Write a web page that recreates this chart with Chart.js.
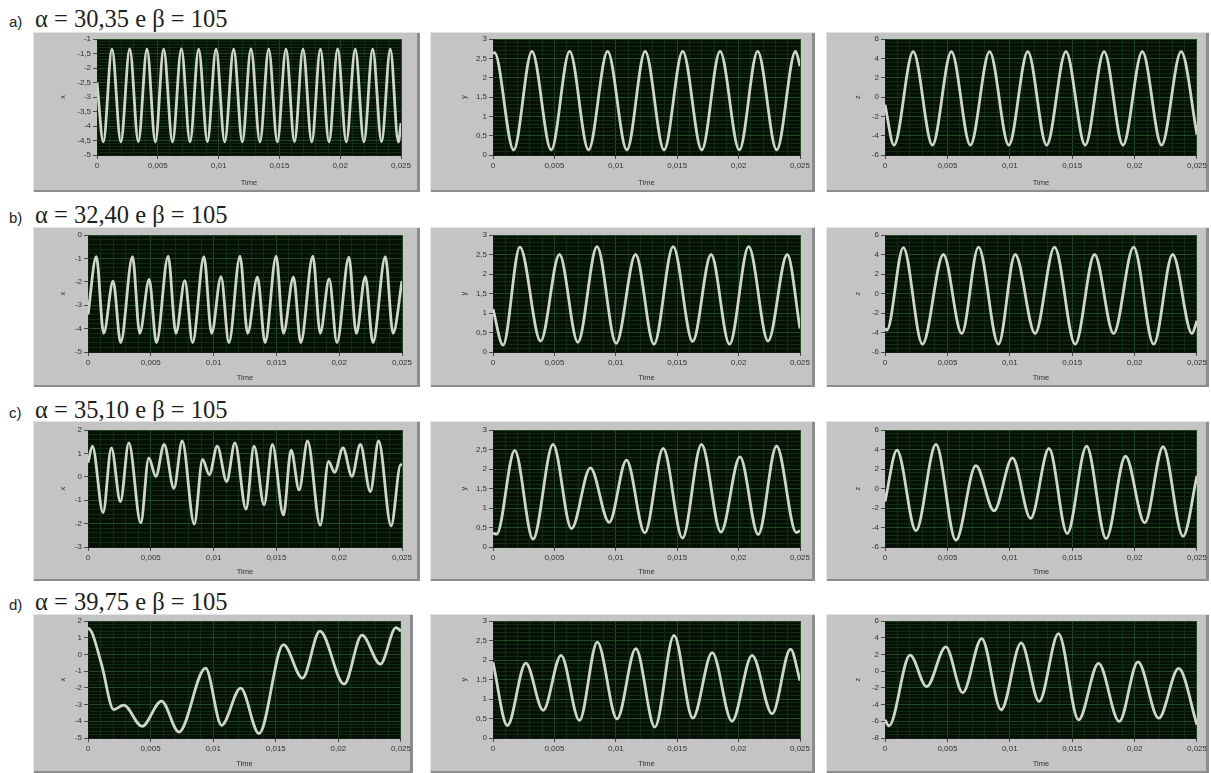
<!DOCTYPE html>
<html>
<head>
<meta charset="utf-8">
<script src="https://cdn.jsdelivr.net/npm/chart.js@4.4.1/dist/chart.umd.min.js"></script>
<style>
    body { margin: 0; background: #fff; }
    #page { position: relative; width: 1211px; height: 773px; overflow: hidden; background: #fff; }
    .letter { position: absolute; font-family: "Liberation Sans", Arial, sans-serif; font-size: 15px; line-height: 15px; color: #222; }
    .title { position: absolute; font-family: "Liberation Serif", "Times New Roman", serif; font-size: 24.5px; line-height: 24px; color: #1e1e1e; white-space: nowrap; }
    .frame { position: absolute; background: #c4c4c4; box-shadow: inset 1px 1px 0 #e4e4e4, inset -3px -2px 0 #8d8d8d; }
    canvas { position: absolute; }
</style>
</head>
<body>
<div id="page"></div>
<script>
// row headings
var rowLetters = ['a)', 'b)', 'c)', 'd)'];
var rowTitles = ['α = 30,35 e β = 105', 'α = 32,40 e β = 105', 'α = 35,10 e β = 105', 'α = 39,75 e β = 105'];

// time axis (s): majors labelled, minors only as grid
var timeRange = [0, 0.025, 0.005];

// [min, max, major step] of each value axis
var a_x_ticks = [-5, -1, 0.5], a_y_ticks = [0, 3, 0.5], a_z_ticks = [-6, 6, 2];
var b_x_ticks = [-5, 0, 1],    b_y_ticks = [0, 3, 0.5], b_z_ticks = [-6, 6, 2];
var c_x_ticks = [-3, 2, 1],    c_y_ticks = [0, 3, 0.5], c_z_ticks = [-6, 6, 2];
var d_x_ticks = [-5, 2, 1],    d_y_ticks = [0, 3, 0.5], d_z_ticks = [-8, 6, 2];

// waveforms, read at their turning points
// a) alpha = 30,35
var a_x_time = [0, 0.00052, 0.00123, 0.00196, 0.00269, 0.0034, 0.00411, 0.0048, 0.00548, 0.00621, 0.00694, 0.00765, 0.00836, 0.00908, 0.00979, 0.0105, 0.01124, 0.01195, 0.01266, 0.0134, 0.01412, 0.01483, 0.01554, 0.01624, 0.01694, 0.01766, 0.01837, 0.01908, 0.01979, 0.0205, 0.02124, 0.02195, 0.02267, 0.0234, 0.02412, 0.02478, 0.025];
var a_x_val  = [-2.5, -4.55, -1.35, -4.55, -1.34, -4.54, -1.35, -4.55, -1.35, -4.55, -1.34, -4.55, -1.35, -4.54, -1.35, -4.55, -1.35, -4.55, -1.34, -4.55, -1.35, -4.55, -1.35, -4.54, -1.35, -4.55, -1.35, -4.55, -1.34, -4.55, -1.35, -4.55, -1.35, -4.54, -1.35, -4.55, -3.9];
var a_y_time = [0, 0.00012, 0.00168, 0.00317, 0.00474, 0.00624, 0.00778, 0.00933, 0.0109, 0.01239, 0.01393, 0.01545, 0.017, 0.01849, 0.02006, 0.02155, 0.0231, 0.02464, 0.025];
var a_y_val  = [2.62, 2.65, 0.13, 2.68, 0.13, 2.68, 0.13, 2.68, 0.13, 2.68, 0.13, 2.68, 0.13, 2.68, 0.13, 2.68, 0.13, 2.68, 2.3];
var a_z_time = [0, 0.00072, 0.00226, 0.0038, 0.00532, 0.00684, 0.00838, 0.00992, 0.01144, 0.01295, 0.0145, 0.01604, 0.01756, 0.01907, 0.02062, 0.02216, 0.02373, 0.025];
var a_z_val  = [-0.8, -4.97, 4.7, -4.97, 4.7, -4.97, 4.7, -4.97, 4.7, -4.97, 4.7, -4.97, 4.7, -4.97, 4.7, -4.97, 4.7, -3.9];

// b) alpha = 32,40
var b_x_time = [0, 0.00066, 0.00125, 0.002, 0.0026, 0.00354, 0.00412, 0.00487, 0.00545, 0.00638, 0.007, 0.00771, 0.00833, 0.00923, 0.00984, 0.01059, 0.01122, 0.0121, 0.01271, 0.01349, 0.0141, 0.01498, 0.01556, 0.01636, 0.01694, 0.0179, 0.01849, 0.0192, 0.01982, 0.02077, 0.02136, 0.02208, 0.02269, 0.02367, 0.02429, 0.025];
var b_x_val  = [-3.4, -0.93, -4.2, -1.97, -4.6, -0.93, -4.2, -1.9, -4.6, -0.9, -4.2, -1.95, -4.6, -0.93, -4.2, -1.78, -4.6, -0.9, -4.2, -1.8, -4.6, -0.9, -4.2, -1.8, -4.6, -0.9, -4.2, -1.88, -4.6, -0.95, -4.2, -1.78, -4.6, -0.93, -4.2, -1.97];
var b_y_time = [0, 0.00082, 0.00219, 0.00388, 0.00541, 0.00691, 0.00847, 0.01003, 0.01161, 0.01311, 0.01467, 0.01626, 0.01776, 0.01926, 0.02082, 0.0224, 0.02396, 0.025];
var b_y_val  = [1.1, 0.18, 2.69, 0.28, 2.5, 0.25, 2.7, 0.22, 2.5, 0.2, 2.7, 0.27, 2.5, 0.2, 2.7, 0.28, 2.5, 0.6];
var b_z_time = [0, 0.00015, 0.00147, 0.003, 0.00468, 0.00615, 0.00749, 0.00909, 0.01043, 0.01203, 0.01358, 0.01524, 0.01679, 0.01832, 0.01992, 0.02153, 0.02305, 0.0246, 0.025];
var b_z_val  = [-3.6, -3.75, 4.7, -5.2, 4.0, -4.1, 4.75, -5.2, 4.0, -4.1, 4.75, -5.2, 4.0, -4.1, 4.75, -5.2, 4.0, -4.1, -2.8];

// c) alpha = 35,10
var c_x_time = [0, 0.00035, 0.0012, 0.00186, 0.00258, 0.00325, 0.0042, 0.00484, 0.0054, 0.00606, 0.00684, 0.0075, 0.00846, 0.00912, 0.00966, 0.01029, 0.01104, 0.0117, 0.01258, 0.01322, 0.01402, 0.01468, 0.01556, 0.01617, 0.01681, 0.01748, 0.01849, 0.01915, 0.01963, 0.0203, 0.02101, 0.02168, 0.02248, 0.02314, 0.02413, 0.0249, 0.025];
var c_x_val  = [0.6, 1.31, -1.53, 1.24, -1.06, 1.45, -1.97, 0.81, 0.02, 1.38, -0.49, 1.53, -2.02, 0.74, 0.09, 1.31, -0.2, 1.45, -1.38, 1.31, -1.2, 1.38, -1.63, 1.14, -0.56, 1.53, -2.07, 0.66, 0.19, 1.24, 0.02, 1.38, -0.63, 1.53, -2.1, 0.52, 0.5];
var c_y_time = [0, 0.0003, 0.00177, 0.00326, 0.00489, 0.00639, 0.00793, 0.00946, 0.01087, 0.01236, 0.01386, 0.01543, 0.01698, 0.01856, 0.02011, 0.0216, 0.02309, 0.0247, 0.025];
var c_y_val  = [0.35, 0.33, 2.48, 0.2, 2.63, 0.47, 2.03, 0.63, 2.23, 0.36, 2.53, 0.23, 2.63, 0.38, 2.31, 0.32, 2.59, 0.37, 0.42];
var c_z_time = [0, 0.00096, 0.00248, 0.00408, 0.00568, 0.00728, 0.00874, 0.01021, 0.01167, 0.01314, 0.0146, 0.01615, 0.01772, 0.01927, 0.02081, 0.02228, 0.02388, 0.025];
var c_z_val  = [-1.34, 3.93, -4.34, 4.52, -5.31, 2.34, -2.28, 3.14, -3.07, 4.1, -4.62, 4.34, -5.14, 3.31, -3.52, 4.28, -4.9, 1.31];

// d) alpha = 39,75
var d_x_time = [0, 0.00032, 0.00112, 0.00205, 0.00285, 0.00432, 0.00587, 0.00726, 0.00939, 0.01067, 0.01219, 0.01366, 0.01561, 0.01713, 0.01852, 0.02046, 0.02188, 0.02335, 0.0246, 0.025];
var d_x_val  = [1.6, 1.3, -0.7, -3.3, -3.03, -4.3, -2.79, -4.64, -0.82, -4.24, -2.02, -4.74, 0.59, -1.42, 1.4, -1.78, 1.15, -0.58, 1.6, 1.4];
var d_y_time = [0, 0.00117, 0.00267, 0.00409, 0.00554, 0.00704, 0.00849, 0.0101, 0.01163, 0.01318, 0.01474, 0.01627, 0.01785, 0.01946, 0.0211, 0.02273, 0.02423, 0.025];
var d_y_val  = [1.94, 0.32, 1.92, 0.71, 2.12, 0.45, 2.46, 0.49, 2.29, 0.28, 2.63, 0.51, 2.19, 0.43, 2.12, 0.62, 2.28, 1.47];
var d_z_time = [0, 0.00032, 0.00201, 0.00334, 0.00487, 0.00623, 0.00775, 0.00931, 0.01091, 0.01235, 0.0139, 0.01551, 0.01711, 0.01877, 0.02027, 0.02193, 0.02353, 0.025];
var d_z_val  = [-5.83, -6.54, 1.91, -1.86, 2.9, -2.57, 3.9, -4.63, 3.38, -3.64, 4.49, -5.83, 0.92, -6.02, 1.12, -5.63, 0.33, -6.42];

// page geometry (frames and plot areas, px)
var colFrame = [[33, 387], [430, 385], [826, 383]];
var colPlot = [[88, 402], [493, 800], [885, 1197]];
var colTitleX = [62, 463, 857];
var rowFrame = [[32, 160], [227, 160], [421, 160], [614, 159]];
var rowPlot = [[39, 155], [235, 352], [430, 547], [621, 738]];
var rowBaseline = [27, 223, 418, 610];

var page = document.getElementById('page');
var tickFont = { family: '"Liberation Sans", Arial, sans-serif', size: 8 };
var titleFont = { family: '"Liberation Sans", Arial, sans-serif', size: 7.5 };

function fmt(v) {
    return String(parseFloat(v.toFixed(4))).replace('.', ',');
}

function isMajor(v, step) {
    var r = v / step;
    return Math.abs(r - Math.round(r)) < 1e-6;
}

// dark LabVIEW plot background
var plotBg = {
    id: 'plotBg',
    beforeDraw: function (chart) {
        var a = chart.chartArea, ctx = chart.ctx;
        ctx.save();
        ctx.fillStyle = '#051105';
        ctx.fillRect(a.left, a.top, a.right - a.left, a.bottom - a.top);
        ctx.restore();
    }
};

function gridColor(step) {
    return function (c) {
        return c.tick && isMajor(c.tick.value, step) ? '#1f4a24' : '#112b17';
    };
}

function tickColor(step) {
    return function (c) {
        return c.tick && isMajor(c.tick.value, step) ? '#4a4a4a' : 'rgba(0,0,0,0)';
    };
}

function drawPanel(row, col, times, vals, ticks, name) {
    var fl = colFrame[col][0], fw = colFrame[col][1];
    var pl = colPlot[col][0], pr = colPlot[col][1];
    if (row === 0 && col === 0) { pl = 97; pr = 401; }
    if (row === 3 && col === 0) { fw = 380; }
    var ft = rowFrame[row][0], fh = rowFrame[row][1];
    var pt = rowPlot[row][0], pb = rowPlot[row][1];
    var axisLeft = colTitleX[col] - 6;

    var frame = document.createElement('div');
    frame.className = 'frame';
    frame.style.cssText = 'left:' + fl + 'px;top:' + ft + 'px;width:' + fw + 'px;height:' + fh + 'px;';
    page.appendChild(frame);

    var cv = document.createElement('canvas');
    cv.width = fw;
    cv.height = fh;
    cv.style.left = fl + 'px';
    cv.style.top = ft + 'px';
    page.appendChild(cv);

    var points = times.map(function (t, i) { return { x: t, y: vals[i] }; });
    var major = ticks[2];

    new Chart(cv, {
        type: 'line',
        data: {
            datasets: [{
                data: points,
                borderColor: '#cfd7c8',
                borderWidth: 2.8,
                pointRadius: 0,
                fill: false,
                cubicInterpolationMode: 'monotone'
            }]
        },
        options: {
            responsive: false,
            animation: false,
            devicePixelRatio: 1,
            events: [],
            layout: { padding: { left: axisLeft - fl, top: pt - ft, right: fl + fw - pr, bottom: 0 } },
            plugins: { legend: { display: false }, tooltip: { enabled: false } },
            scales: {
                x: {
                    type: 'linear',
                    min: timeRange[0],
                    max: timeRange[1],
                    afterFit: function (s) { s.height = ft + fh - pb; },
                    ticks: {
                        stepSize: timeRange[2] / 5,
                        autoSkip: false,
                        maxRotation: 0,
                        padding: 2,
                        color: '#333',
                        font: tickFont,
                        callback: function (v) { return isMajor(v, timeRange[2]) ? fmt(v) : ''; }
                    },
                    grid: { color: gridColor(timeRange[2]), tickColor: tickColor(timeRange[2]), tickLength: 4, lineWidth: 1 },
                    border: { color: '#1a1a1a' },
                    title: { display: true, text: 'Time', color: '#333', font: titleFont, padding: { top: 0, bottom: 5 } }
                },
                y: {
                    min: ticks[0],
                    max: ticks[1],
                    afterFit: function (s) { s.width = pl - axisLeft; },
                    ticks: {
                        stepSize: major / 5,
                        autoSkip: false,
                        padding: 2,
                        color: '#333',
                        font: tickFont,
                        callback: function (v) { return isMajor(v, major) ? fmt(v) : ''; }
                    },
                    grid: { color: gridColor(major), tickColor: tickColor(major), tickLength: 4, lineWidth: 1 },
                    border: { color: '#1a1a1a' },
                    title: { display: true, text: name, color: '#333', font: titleFont, padding: { top: 2, bottom: 2 } }
                }
            }
        },
        plugins: [plotBg]
    });
}

// row headings
rowTitles.forEach(function (text, i) {
    var l = document.createElement('div');
    l.className = 'letter';
    l.textContent = rowLetters[i];
    l.style.left = '9px';
    l.style.top = (rowBaseline[i] - 13) + 'px';
    page.appendChild(l);

    var t = document.createElement('div');
    t.className = 'title';
    t.textContent = text;
    t.style.left = '35px';
    t.style.top = (rowBaseline[i] - 20) + 'px';
    page.appendChild(t);
});

drawPanel(0, 0, a_x_time, a_x_val, a_x_ticks, 'x');
drawPanel(0, 1, a_y_time, a_y_val, a_y_ticks, 'y');
drawPanel(0, 2, a_z_time, a_z_val, a_z_ticks, 'z');
drawPanel(1, 0, b_x_time, b_x_val, b_x_ticks, 'x');
drawPanel(1, 1, b_y_time, b_y_val, b_y_ticks, 'y');
drawPanel(1, 2, b_z_time, b_z_val, b_z_ticks, 'z');
drawPanel(2, 0, c_x_time, c_x_val, c_x_ticks, 'x');
drawPanel(2, 1, c_y_time, c_y_val, c_y_ticks, 'y');
drawPanel(2, 2, c_z_time, c_z_val, c_z_ticks, 'z');
drawPanel(3, 0, d_x_time, d_x_val, d_x_ticks, 'x');
drawPanel(3, 1, d_y_time, d_y_val, d_y_ticks, 'y');
drawPanel(3, 2, d_z_time, d_z_val, d_z_ticks, 'z');
</script>
</body>
</html>
